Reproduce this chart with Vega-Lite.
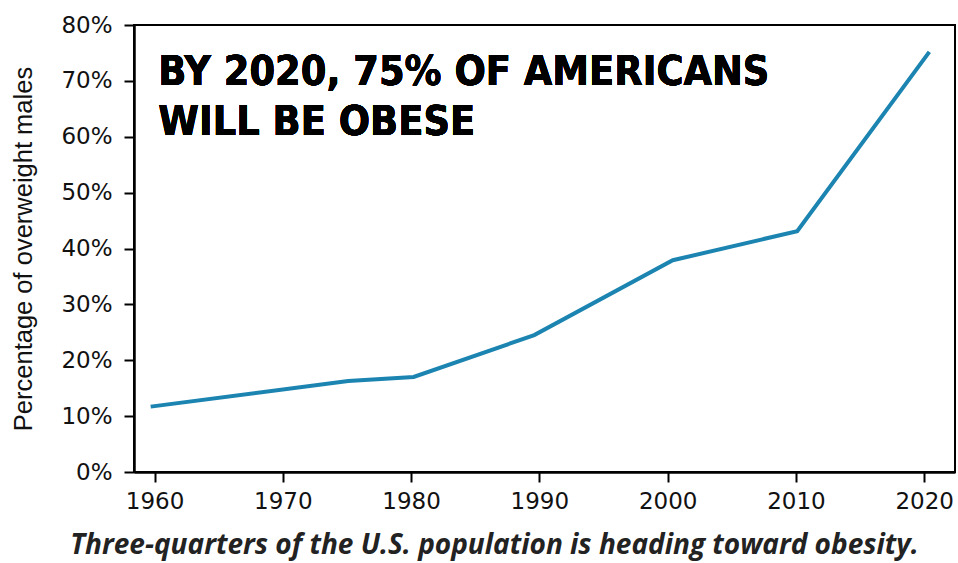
{
  "$schema": "https://vega.github.io/schema/vega-lite/v6.json",
  "width": 821,
  "height": 447,
  "autosize": {"type": "none"},
  "padding": {"left": 134, "top": 25, "right": 3, "bottom": 91},
  "background": "white",
  "config": {
    "view": {"stroke": "black", "strokeWidth": 2},
    "axis": {
      "domainColor": "black", "domainWidth": 2.5, "tickColor": "black", "tickWidth": 2, "tickSize": 10,
      "labelFont": "DejaVu Sans", "labelFontSize": 23, "labelColor": "#111",
      "grid": false, "titleFont": "Liberation Sans", "titleFontWeight": "normal", "titleColor": "#111"
    }
  },
  "title": {
    "text": "Three-quarters of the U.S. population is heading toward obesity.",
    "orient": "bottom", "anchor": "middle", "font": "Open Sans", "fontStyle": "italic", "fontWeight": "bold",
    "fontSize": 28, "color": "#222", "offset": 19, "dx": -50
  },
  "data": {"values": [
    {"year": 1959.7, "pct": 0.117},
    {"year": 1975.1, "pct": 0.163},
    {"year": 1980.2, "pct": 0.170},
    {"year": 1989.6, "pct": 0.245},
    {"year": 2000.4, "pct": 0.379},
    {"year": 2010.1, "pct": 0.431},
    {"year": 2020.4, "pct": 0.752}
  ]},
  "layer": [
    {
      "mark": {"type": "line", "color": "#1b84b1", "strokeWidth": 4, "clip": true},
      "encoding": {
        "x": {"field": "year", "type": "quantitative",
          "scale": {"domain": [1958.4, 2022.4], "nice": false, "zero": false},
          "axis": {"values": [1960, 1970, 1980, 1990, 2000, 2010, 2020], "format": "d", "title": null, "labelPadding": 8}},
        "y": {"field": "pct", "type": "quantitative",
          "scale": {"domain": [0, 0.8], "nice": false},
          "axis": {"values": [0, 0.1, 0.2, 0.3, 0.4, 0.5, 0.6, 0.7, 0.8], "format": ".0%",
            "title": "Percentage of overweight males", "titleFontSize": 25.5, "titlePadding": 24, "labelPadding": 12}}
      }
    },
    {
      "mark": {"type": "text", "font": "DejaVu Sans Condensed, sans-serif", "fontWeight": "bold",
        "fontSize": 41, "lineHeight": 50, "align": "left", "baseline": "alphabetic", "color": "black"},
      "encoding": {
        "x": {"datum": 1960.3, "type": "quantitative"},
        "y": {"datum": 0.6926, "type": "quantitative"},
        "text": {"value": ["BY 2020, 75% OF AMERICANS", "WILL BE OBESE"]}
      }
    }
  ]
}
